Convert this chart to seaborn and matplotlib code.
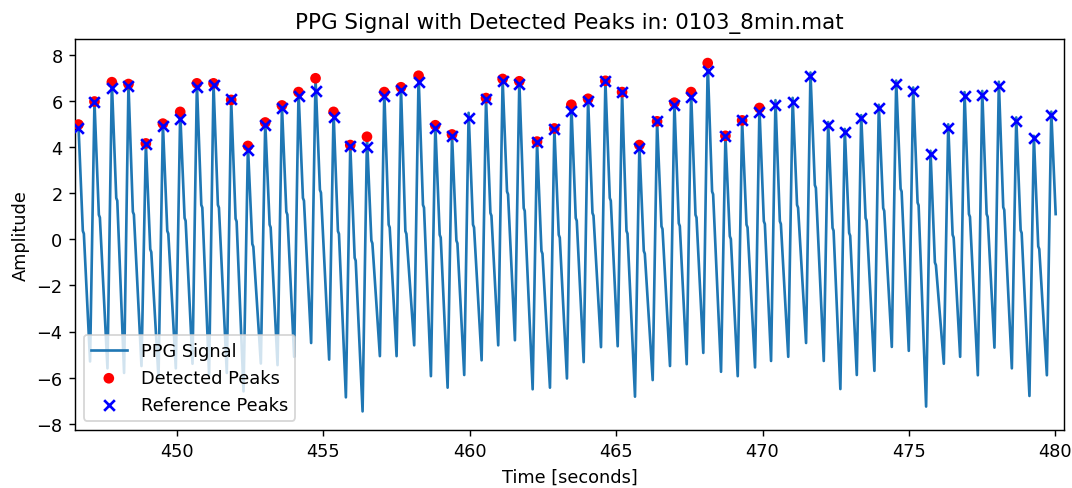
import matplotlib
matplotlib.use("Agg")
import matplotlib.pyplot as plt
import numpy as np
import pandas as pd
import seaborn as sns

# Beat-by-beat description of the PPG segment (seconds / amplitude)
peak_times = [
    446.646, 447.193, 447.787, 448.354, 448.948, 449.529, 450.120, 450.690,
    451.257, 451.861, 452.432, 453.023, 453.593, 454.160, 454.740, 455.355,
    455.926, 456.496, 457.087, 457.657, 458.258, 458.829, 459.399, 459.966,
    460.560, 461.127, 461.697, 462.302, 462.893, 463.473, 464.044, 464.635,
    465.205, 465.796, 466.400, 466.991, 467.561, 468.128, 468.733, 469.303,
    469.894, 470.441, 471.028, 471.636, 472.240, 472.807, 473.368, 473.969,
    474.563, 475.143, 475.734, 476.339, 476.896, 477.500, 478.067, 478.661,
    479.262, 479.857,
]
peak_amplitudes = [
    4.99, 5.99, 6.83, 6.75, 4.17, 5.03, 5.54, 6.78, 6.78, 6.06, 4.06, 5.08,
    5.82, 6.40, 7.00, 5.54, 4.10, 4.46, 6.40, 6.61, 7.11, 4.96, 4.56, 5.50,
    6.14, 6.97, 6.87, 4.25, 4.82, 5.85, 6.11, 6.89, 6.40, 4.10, 5.13, 5.94,
    6.40, 7.66, 4.50, 5.17, 5.71, 6.05, 6.15, 7.25, 5.10, 4.80, 5.40, 5.85,
    6.90, 6.60, 3.85, 5.00, 6.40, 6.45, 6.85, 5.30, 4.50, 5.55,
]
notch_amplitudes = [
    0.37, 1.07, 1.80, 1.20, -0.43, 0.37, 0.93, 1.50, 1.50, 0.90, -0.20, 0.64,
    1.20, 1.80, 2.15, 0.36, -0.80, -0.05, 0.64, 0.36, 1.50, 0.20, -0.05, 0.64,
    1.15, 2.08, 1.36, -0.50, 0.20, 0.93, 1.15, 1.80, 0.37, -0.50, 0.57, 0.70,
    1.07, 2.08, 0.14, 0.64, 0.79, 0.79, 1.50, 2.36, 0.50, 0.28, 0.93, 1.36,
    2.20, 1.60, -1.00, 0.20, 1.10, 1.10, 1.40, 0.40, -0.30, 1.10,
]
trough_amplitudes = [
    -5.30, -5.60, -5.80, -5.50, -6.00, -5.60, -5.40, -5.90, -5.80, -6.60,
    -5.39, -5.46, -5.10, -4.50, -5.22, -6.86, -7.47, -5.07, -5.07, -4.60,
    -5.94, -6.44, -5.89, -5.25, -4.60, -4.38, -6.51, -6.44, -6.04, -5.33,
    -4.68, -4.64, -6.83, -6.11, -5.50, -5.42, -4.93, -5.75, -5.94, -5.56,
    -5.28, -5.10, -4.50, -5.28, -6.50, -5.89, -5.71, -4.67, -4.84, -7.26,
    -5.40, -5.10, -5.90, -4.70, -5.60, -6.80, -5.90,
]

# Peaks found by the detector (indices into the beat list)
detected_idx = [0, 1, 2, 3, 4, 5, 6, 7, 8, 9, 10, 11, 12, 13, 14, 15, 16,
                17, 18, 19, 20, 21, 22, 24, 25, 26, 27, 28, 29, 30, 31, 32,
                33, 34, 35, 36, 37, 38, 39, 40]

# Annotated reference peaks
reference_amplitudes = [
    4.82, 5.97, 6.57, 6.68, 4.13, 4.92, 5.25, 6.64, 6.71, 6.10, 3.88, 4.99,
    5.71, 6.21, 6.46, 5.32, 4.07, 4.03, 6.25, 6.51, 6.83, 4.86, 4.50, 5.29,
    6.10, 6.89, 6.75, 4.22, 4.79, 5.60, 6.03, 6.89, 6.40, 3.96, 5.13, 5.82,
    6.18, 7.32, 4.50, 5.17, 5.54, 5.85, 5.95, 7.08, 4.99, 4.65, 5.28, 5.71,
    6.75, 6.46, 3.70, 4.85, 6.25, 6.29, 6.68, 5.15, 4.39, 5.39,
]

# Waveform timing within a beat (seconds relative to the systolic peak)
RISE = 0.15         # trough -> peak upstroke
NOTCH_START = 0.15  # peak -> dicrotic notch
NOTCH_END = 0.185
NOTCH_DIP = 0.12

sig_t, sig_v = [], []
n_beats = len(peak_times)
for i in range(n_beats):
    if i > 0:
        sig_t.append(peak_times[i] - RISE)
        sig_v.append(trough_amplitudes[i - 1])
    sig_t.append(peak_times[i])
    sig_v.append(peak_amplitudes[i])
    sig_t.append(peak_times[i] + NOTCH_START)
    sig_v.append(notch_amplitudes[i])
    if i < n_beats - 1:
        sig_t.append(peak_times[i] + NOTCH_END)
        sig_v.append(notch_amplitudes[i] - NOTCH_DIP)

signal = pd.DataFrame({"time": sig_t, "amplitude": sig_v})
detected = pd.DataFrame({
    "time": [peak_times[i] for i in detected_idx],
    "amplitude": [peak_amplitudes[i] for i in detected_idx],
})
reference = pd.DataFrame({"time": peak_times, "amplitude": reference_amplitudes})

fig, ax = plt.subplots(figsize=(8.375, 3.820), dpi=128)
fig.subplots_adjust(left=0.070, right=0.9925, top=0.918, bottom=0.119)

sns.lineplot(data=signal, x="time", y="amplitude", ax=ax, color="#1f77b4",
             linewidth=1.5, estimator=None, sort=False, label="PPG Signal")
sns.scatterplot(data=detected, x="time", y="amplitude", ax=ax, color="red",
                marker="o", s=36, edgecolor="none", label="Detected Peaks",
                zorder=3)
sns.scatterplot(data=reference, x="time", y="amplitude", ax=ax, color="blue",
                marker="x", s=36, linewidth=1.5, label="Reference Peaks",
                zorder=4)

ax.set_xlim(446.53, 480.29)
ax.set_ylim(-8.27, 8.7)
ax.set_title("PPG Signal with Detected Peaks in: 0103_8min.mat")
ax.set_xlabel("Time [seconds]")
ax.set_ylabel("Amplitude")
ax.legend(loc="lower left")

fig.savefig("out.png", dpi=128)
